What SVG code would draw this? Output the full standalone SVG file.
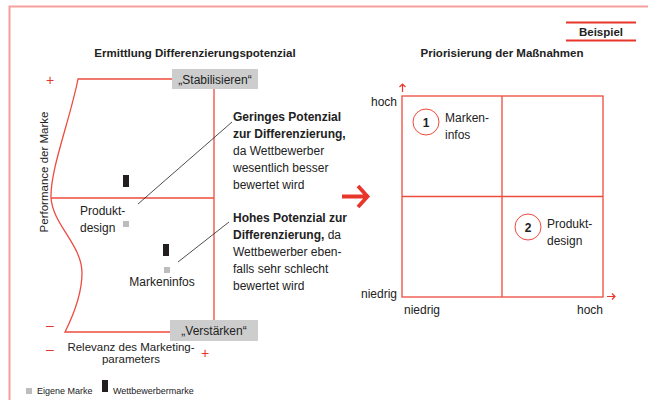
<svg xmlns="http://www.w3.org/2000/svg" width="648" height="400" viewBox="0 0 648 400">
<defs>
<style>
text{font-family:"Liberation Sans Narrow","Liberation Sans",Arial,sans-serif;fill:#222;font-size:12px}
.b{font-weight:bold}
.t{font-size:11.5px;font-weight:bold}
.s{font-size:9px}
.r{fill:#e8362b;font-family:"Liberation Sans",Arial,sans-serif}
.ln{stroke:#ee4b3e;stroke-width:1.3;fill:none}
.k{stroke:#222;stroke-width:0.8;fill:none}
.box{fill:#cdcdcd}
.own{fill:#bdbdc0}
.comp{fill:#231f20}
.c{text-anchor:middle}
.e{text-anchor:end}
</style>
</defs>
<rect width="648" height="400" fill="#fff"/>
<path d="M9.5 400V6.5H648" stroke="#f5a09b" stroke-width="2" fill="none"/>
<g id="beispiel">
<path d="M566 22.5H636M566 40.5H636" stroke="#e8362b" stroke-width="2"/>
<text x="601" y="35.5" class="c b" style="font-size:11.5px">Beispiel</text>
</g>
<text x="195" y="57" class="c t">Ermittlung Differenzierungspotenzial</text>
<text x="502" y="57" class="c t">Priorisierung der Maßnahmen</text>

<g id="left-chart">
<path class="ln" d="M172 79H78C70 120 50 170 51 198C53 225 82 245 82 273C82 295 72 318 65 332H172"/>
<path class="ln" d="M51 198H214M214 89V320"/>
<text x="50" y="84.5" class="c r" style="font-size:14px">+</text>
<text x="50" y="330" class="c r" style="font-size:14px">–</text>
<text x="50" y="354" class="c r" style="font-size:14px">–</text>
<text x="205" y="357.5" class="c r" style="font-size:14px">+</text>
<text transform="translate(48 172) rotate(-90)" class="c" style="font-size:11.5px">Performance der Marke</text>
<text x="131" y="351" class="c" style="font-size:11.5px">Relevanz des Marketing-</text>
<text x="131" y="363" class="c" style="font-size:11.5px">parameters</text>
</g>
<g id="stabilisieren">
<rect class="box" x="172" y="69" width="86" height="20"/>
<text x="215" y="83.5" class="c">„Stabilisieren“</text>
</g>
<g id="verstaerken">
<rect class="box" x="170" y="320" width="88" height="21"/>
<text x="214" y="335" class="c">„Verstärken“</text>
</g>
<g id="produktdesign">
<rect class="comp" x="123" y="175" width="6" height="12"/>
<rect class="own" x="123" y="221" width="6" height="6"/>
<text x="80" y="215" style="font-size:12px">Produkt-</text>
<text x="80" y="232" style="font-size:12px">design</text>
</g>
<g id="markeninfos">
<rect class="comp" x="163" y="244" width="6" height="12"/>
<rect class="own" x="164" y="267" width="6" height="6"/>
<text x="162" y="286" class="c" style="font-size:12px">Markeninfos</text>
</g>
<g id="connectors">
<path class="k" d="M138 204L232 122M178 262L229 222"/>
</g>
<g id="text-gering">
<text x="233" y="121"><tspan class="b">Geringes Potenzial</tspan><tspan x="233" y="138" class="b">zur Differenzierung,</tspan><tspan x="233" y="155">da Wettbewerber</tspan><tspan x="233" y="172">wesentlich besser</tspan><tspan x="233" y="189">bewertet wird</tspan></text>
</g>
<g id="text-hoch">
<text x="233" y="222"><tspan class="b">Hohes Potenzial zur</tspan><tspan x="233" y="239"><tspan class="b">Differenzierung,</tspan> da</tspan><tspan x="233" y="256">Wettbewerber eben-</tspan><tspan x="233" y="273">falls sehr schlecht</tspan><tspan x="233" y="290">bewertet wird</tspan></text>
</g>
<g id="big-arrow">
<path d="M342 196.5H367M358 186L367.5 196.5L358 207" stroke="#e8362b" stroke-width="3.8" fill="none"/>
</g>
<g id="matrix">
<rect class="ln" x="402" y="96" width="201" height="201"/>
<path class="ln" d="M502 96V297M402 196.5H603"/>
<path d="M402.5 92V84M399.5 87L402.5 84L405.5 87M607 296.5H615M612 293.5L615 296.5L612 299.5" stroke="#e8362b" stroke-width="1.2" fill="none"/>
<text x="397" y="106" class="e">hoch</text>
<text x="397" y="298" class="e">niedrig</text>
<text x="404" y="314">niedrig</text>
<text x="603" y="314" class="e">hoch</text>
</g>
<g id="m-markeninfos">
<circle cx="426" cy="122" r="13" fill="#fff" stroke="#ee4b3e" stroke-width="1"/>
<text x="426" y="126.5" class="c b">1</text>
<text x="445" y="122">Marken-</text>
<text x="445" y="139">infos</text>
</g>
<g id="m-produktdesign">
<circle cx="528" cy="227" r="13" fill="#fff" stroke="#ee4b3e" stroke-width="1"/>
<text x="528" y="231.5" class="c b">2</text>
<text x="547" y="228">Produkt-</text>
<text x="547" y="245">design</text>
</g>
<g id="legend">
<rect class="own" x="26" y="388" width="6" height="6"/>
<text x="37" y="394" class="s">Eigene Marke</text>
<rect class="comp" x="102" y="380" width="6" height="12"/>
<text x="113" y="394" class="s">Wettbewerbermarke</text>
</g>
</svg>
